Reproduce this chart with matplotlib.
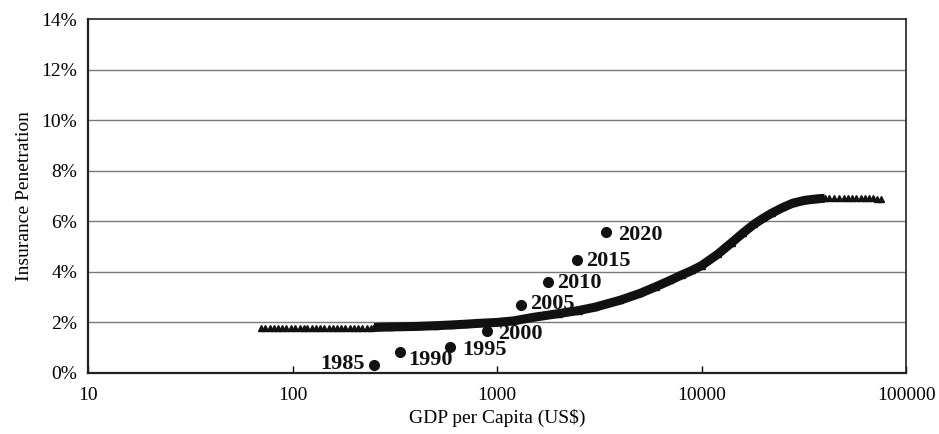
import matplotlib
matplotlib.use("Agg")
import matplotlib.pyplot as plt
from matplotlib.ticker import FixedLocator, FuncFormatter

# flat left tail of the fitted curve (distinct triangles)
tail_x = [70, 73, 77, 81, 85, 89, 93, 98, 103, 108, 113, 118, 124, 130,
          136, 143, 150, 157, 165, 173, 181, 190, 199, 209, 219, 230, 241]
tail_y = [1.78] * len(tail_x)

# fitted S-curve (GDP per capita, penetration %)
curve_x = [250, 300, 400, 500, 600, 700, 800, 1000, 1200, 1500, 2000, 2500,
           3000, 4000, 5000, 6000, 7000, 8000, 9000, 10000, 12000, 14000,
           16000, 18000, 20000, 22000, 25000, 28000, 32000, 36000, 40000]
curve_y = [1.80, 1.82, 1.84, 1.87, 1.90, 1.93, 1.96, 2.00, 2.06, 2.20, 2.35, 2.47,
           2.60, 2.88, 3.15, 3.42, 3.66, 3.88, 4.06, 4.25, 4.70, 5.15,
           5.55, 5.88, 6.12, 6.32, 6.55, 6.72, 6.83, 6.88, 6.91]

# flat right tail
head_x = [42000, 44500, 47000, 49500, 52000, 54500, 57000, 60000, 63000,
          66000, 69000, 72000, 75000]
head_y = [6.92, 6.93, 6.93, 6.93, 6.93, 6.93, 6.92, 6.92, 6.92, 6.91, 6.91, 6.90, 6.90]

# China observations
years = ["1985", "1990", "1995", "2000", "2005", "2010", "2015", "2020"]
obs_x = [250, 336, 589, 890, 1310, 1780, 2460, 3400]
obs_y = [0.32, 0.83, 1.03, 1.66, 2.69, 3.61, 4.48, 5.56]
# label offsets in pixels (dx, dy)
lab_dx = [-9, 8, 12, 11, 9, 9, 9, 12]
lab_dy = [1, -8, -3, -3, 1, -1, -1, -3]

plt.rcParams['font.family'] = ['Liberation Serif', 'DejaVu Serif']

fig = plt.figure(figsize=(9.39, 4.34), dpi=100)
ax = fig.add_axes([0.094, 0.1406, 0.871, 0.8156])

ax.set_xscale('log')
ax.set_xlim(10, 100000)
ax.set_ylim(0, 14)

for v in [2, 4, 6, 8, 10, 12]:
    ax.axhline(v, color='#7a7a7a', lw=1.0, zorder=0)

ax.plot(curve_x, curve_y, '-', color='#111111', lw=6.5, solid_capstyle='butt', zorder=2)
ax.plot(tail_x + curve_x + head_x, tail_y + curve_y + head_y, '^',
        color='#111111', ms=4.2, zorder=3)
ax.plot(obs_x, obs_y, 'o', color='#111111', ms=7, zorder=4)

px = 72.0 / fig.dpi
for yr, x, y, dx, dy in zip(years, obs_x, obs_y, lab_dx, lab_dy):
    ax.annotate(yr, (x, y), xytext=(dx * px, dy * px), textcoords='offset points',
                ha='right' if dx < 0 else 'left', va='center',
                fontsize=16, fontweight='bold', color='#111111')

ax.xaxis.set_major_locator(FixedLocator([10, 100, 1000, 10000, 100000]))
ax.xaxis.set_minor_locator(FixedLocator([]))
ax.xaxis.set_major_formatter(FuncFormatter(lambda v, p: "%d" % v))
ax.set_yticks([0, 2, 4, 6, 8, 10, 12, 14])
ax.yaxis.set_major_formatter(FuncFormatter(lambda v, p: "%d%%" % v))

ax.tick_params(axis='x', direction='in', length=5, width=1, labelsize=14, pad=10)
ax.tick_params(axis='y', length=0, labelsize=14, pad=8)
for s in ax.spines.values():
    s.set_color('#222222')
    s.set_linewidth(1.2)
ax.spines['left'].set_linewidth(1.6)
ax.spines['bottom'].set_linewidth(1.6)

ax.set_xlabel("GDP per Capita (US$)", fontsize=14, labelpad=4)
ax.set_ylabel("Insurance Penetration", fontsize=14, labelpad=6)

fig.savefig("out.png", dpi=100)
